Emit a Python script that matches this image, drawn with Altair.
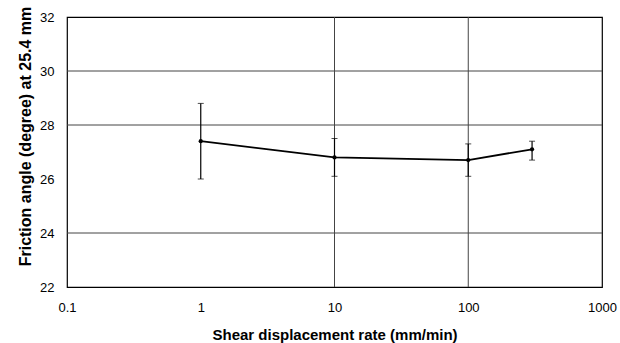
import altair as alt
import pandas as pd

rates = [1, 10, 100, 300]
angles = [27.4, 26.8, 26.7, 27.1]
err_low = [26.0, 26.1, 26.1, 26.7]
err_high = [28.8, 27.5, 27.3, 27.4]

hgrid = [24, 28, 30]
vgrid = [10, 100]
x_ticks = [0.1, 1, 10, 100, 1000]
y_ticks = [22, 24, 26, 28, 30, 32]

df = pd.DataFrame({"rate": rates, "angle": angles, "lo": err_low, "hi": err_high})
hg = pd.DataFrame({"y": hgrid})
vg = pd.DataFrame({"x": vgrid})

FONT = "Liberation Sans"

xscale = alt.Scale(type="log", domain=[0.1, 1000], nice=False)
yscale = alt.Scale(domain=[22, 32], nice=False, zero=False)

xaxis = alt.Axis(values=x_ticks, format="~g", title="Shear displacement rate (mm/min)",
                 grid=False, ticks=False, domain=False, labelFontSize=13, labelFont=FONT,
                 labelColor="black", titleFont=FONT, titleFontSize=15, titleFontWeight="bold",
                 titleColor="black", labelPadding=14, labelFlush=False,
                 titleY=47, titleBaseline="middle")
yaxis = alt.Axis(values=y_ticks, title="Friction angle (degree) at 25.4 mm",
                 grid=False, ticks=False, domain=False, labelFontSize=13, labelFont=FONT,
                 labelColor="black", titleFont=FONT, titleFontSize=16, titleFontWeight="bold",
                 titleColor="black", labelPadding=13,
                 titleX=-42, titleY=119, titleBaseline="middle")

def X(f):
    return alt.X(f, type="quantitative", scale=xscale, axis=xaxis)

def Y(f):
    return alt.Y(f, type="quantitative", scale=yscale, axis=yaxis)

hlines = alt.Chart(hg).mark_rule(color="#444", strokeWidth=1).encode(y=Y("y"))
vlines = alt.Chart(vg).mark_rule(color="#444", strokeWidth=1).encode(x=X("x"))

line = alt.Chart(df).mark_line(color="black", strokeWidth=1.8).encode(x=X("rate"), y=Y("angle"))
pts = alt.Chart(df).mark_point(filled=True, color="black", size=18, opacity=1).encode(
    x=X("rate"), y=Y("angle"))
err = alt.Chart(df).mark_rule(color="black", strokeWidth=1.2).encode(
    x=X("rate"), y=Y("lo"), y2="hi:Q")
cap_lo = alt.Chart(df).mark_tick(color="black", thickness=1, size=6, orient="horizontal").encode(
    x=X("rate"), y=Y("lo"))
cap_hi = alt.Chart(df).mark_tick(color="black", thickness=1, size=6, orient="horizontal").encode(
    x=X("rate"), y=Y("hi"))

chart = alt.layer(hlines, vlines, err, cap_lo, cap_hi, line, pts).properties(
    width=535, height=270,
    autosize=alt.AutoSizeParams(type="none"),
    padding={"left": 67, "top": 17, "right": 18, "bottom": 56},
    background="white",
).configure_view(stroke="black", strokeWidth=1.2)

chart.save("out.html", embed_options={"renderer": "svg", "actions": False})
